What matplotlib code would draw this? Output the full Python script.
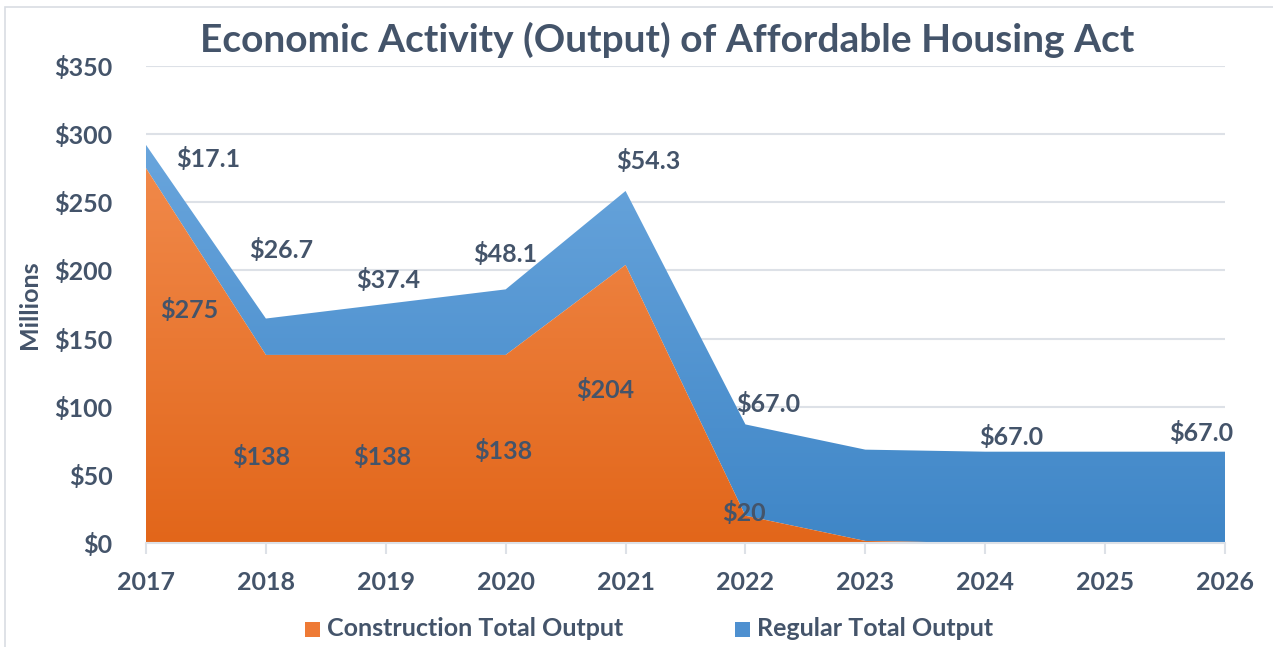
import numpy as np
import matplotlib
matplotlib.use('Agg')
import matplotlib.pyplot as plt
from matplotlib.patches import Rectangle

plt.rcParams['font.family'] = ['Lato', 'DejaVu Sans']

years = [2017, 2018, 2019, 2020, 2021, 2022, 2023, 2024, 2025, 2026]
construction = [275, 138, 138, 138, 204, 20, 1.5, 0, 0, 0]
regular = [17.1, 26.7, 37.4, 48.1, 54.3, 67.0, 67.0, 67.0, 67.0, 67.0]

# label text + where Excel put it (year, value)
cons_labels = ['$275', '$138', '$138', '$138', '$204', '$20']
cons_pos = [(2017.36, 171), (2017.96, 63), (2018.97, 63), (2019.98, 67.5),
            (2020.83, 112), (2021.99, 22)]
reg_labels = ['$17.1', '$26.7', '$37.4', '$48.1', '$54.3', '$67.0', '$67.0', '$67.0']
reg_pos = [(2017.52, 282), (2018.13, 215), (2019.02, 193), (2020.0, 212),
           (2021.19, 280), (2022.19, 102), (2024.22, 78), (2025.8, 81)]

TXT = '#44546A'
GRID = '#DDE1E7'
FS = 18

fig = plt.figure(figsize=(12.73, 6.47), dpi=100)
ax = fig.add_axes([146/1273, 1-543/647, (1225-146)/1273, (543-66)/647])

x = np.array(years, dtype=float)
c = np.array(construction)
top = c + np.array(regular)


def grad_fill(ax, x, y0, y1, c_top, c_bot, z):
    poly = ax.fill_between(x, y0, y1, facecolor='none', edgecolor='none', zorder=z)
    path = poly.get_paths()[0]
    g = np.linspace(1, 0, 256).reshape(-1, 1)
    ct = np.array(matplotlib.colors.to_rgb(c_top))
    cb = np.array(matplotlib.colors.to_rgb(c_bot))
    img = g[..., None] * ct + (1 - g[..., None]) * cb
    im = ax.imshow(img, extent=[x.min(), x.max(), 0, 300], aspect='auto',
                   origin='upper', zorder=z)
    im.set_clip_path(path, transform=ax.transData)


grad_fill(ax, x, c, top, '#6AA6DD', '#3F86C7', 2)
grad_fill(ax, x, 0, c, '#F28C4E', '#E2661A', 3)

ax.set_xlim(2017, 2026)
ax.set_ylim(0, 350)
ax.set_yticks(range(0, 351, 50))
ax.set_yticklabels([f'${v}' for v in range(0, 351, 50)])
ax.set_xticks(years)
ax.grid(axis='y', color=GRID, linewidth=1.5, zorder=0)
ax.set_axisbelow(True)
for s in ['top', 'right', 'left']:
    ax.spines[s].set_visible(False)
ax.spines['bottom'].set_color(GRID)
ax.spines['bottom'].set_linewidth(1.5)
ax.spines['bottom'].set_zorder(5)
ax.tick_params(axis='y', length=0, pad=24, labelsize=FS, labelcolor=TXT)
ax.tick_params(axis='x', length=8, color=GRID, width=1.5, pad=12, labelsize=FS, labelcolor=TXT)
for t in ax.get_xticklabels() + ax.get_yticklabels():
    t.set_fontweight('bold')

ax.set_ylabel('Millions', fontsize=FS, fontweight='bold', color=TXT, labelpad=10)

for lab, (px, py) in zip(cons_labels, cons_pos):
    ax.text(px, py, lab, ha='center', va='center', fontsize=FS, fontweight='bold',
            color=TXT, zorder=6)
for lab, (px, py) in zip(reg_labels, reg_pos):
    ax.text(px, py, lab, ha='center', va='center', fontsize=FS, fontweight='bold',
            color=TXT, zorder=6)

fig.text(667/1273, 1-40/647, 'Economic Activity (Output) of Affordable Housing Act',
         ha='center', va='center', fontsize=28, fontweight='bold', color=TXT)

# legend
fig.patches.append(Rectangle((305/1273, 1-637/647), 15/1273, 15/647,
                             transform=fig.transFigure, facecolor='#EE7A35', edgecolor='none'))
fig.text(327/1273, 1-629/647, 'Construction Total Output', ha='left', va='center',
         fontsize=FS, fontweight='bold', color=TXT)
fig.patches.append(Rectangle((735/1273, 1-637/647), 15/1273, 15/647,
                             transform=fig.transFigure, facecolor='#4E90D0', edgecolor='none'))
fig.text(757/1273, 1-629/647, 'Regular Total Output', ha='left', va='center',
         fontsize=FS, fontweight='bold', color=TXT)

# chart border
fig.patches.append(Rectangle((5/1273, -0.01), 1.1, 1 - 7/647 + 0.01, transform=fig.transFigure,
                             facecolor='none', edgecolor='#D9DDE3', linewidth=1.2))

fig.savefig('out.png', dpi=100)
